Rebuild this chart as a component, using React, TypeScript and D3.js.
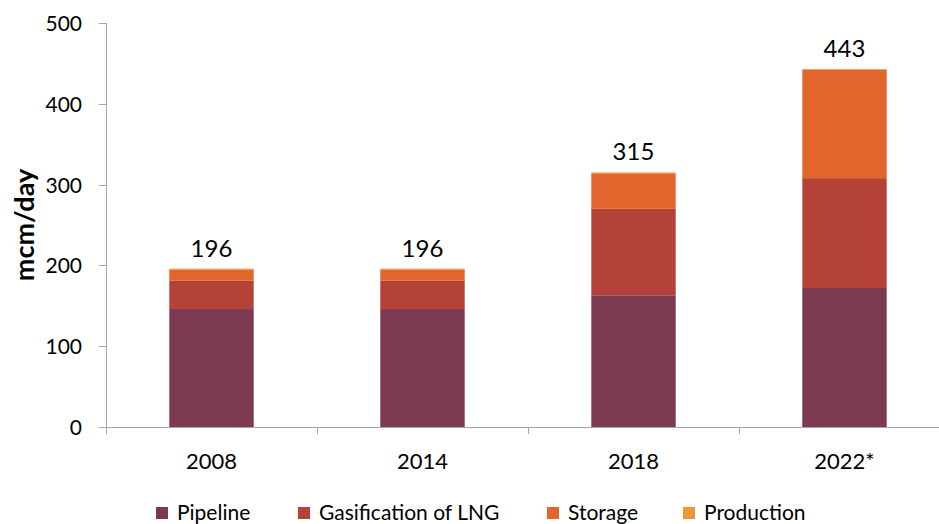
import React from 'react'
import * as d3 from 'd3'

const years = ['2008', '2014', '2018', '2022*']
const pipeline = [146, 146, 163, 172]
const lng = [35, 35, 107, 136]
const storage = [14, 14, 44, 134.5]
const production = [1, 1, 1, 0.5]
const totals = [196, 196, 315, 443]
const seriesNames = ['Pipeline', 'Gasification of LNG', 'Storage', 'Production']
const colors = ['#7B3A52', '#B54238', '#E2652E', '#E8983A']
const yTicks = [0, 100, 200, 300, 400, 500]

const font = 'Lato, "Open Sans", sans-serif'

export default function App() {
  const width = 939, height = 524
  const margin = { top: 23, right: -11, bottom: 97, left: 106 }
  const w = width - margin.left - margin.right
  const h = height - margin.top - margin.bottom

  const rows = years.map((y, i) => ({
    year: y, Pipeline: pipeline[i], 'Gasification of LNG': lng[i],
    Storage: storage[i], Production: production[i],
  }))
  const stacked = d3.stack<any>().keys(seriesNames)(rows)

  const x = d3.scaleBand().domain(years).range([0, w]).paddingInner(0.6).paddingOuter(0.3)
  const y = d3.scaleLinear().domain([0, 500]).range([h, 0])
  const step = x.step()
  const axisColor = '#A6A6A6'

  const legendX = [156, 298, 547, 683]

  return (
    <svg width={width} height={height} style={{ position: 'absolute', left: 0, top: 0 }}>
      <g transform={`translate(${margin.left},${margin.top})`}>
        {stacked.map((s, si) => (
          <g key={si} fill={colors[si]}>
            {s.map((d, i) => (
              <rect key={i} x={x(years[i])} y={y(d[1])} width={x.bandwidth()}
                height={Math.max(0, y(d[0]) - y(d[1]))} />
            ))}
          </g>
        ))}
        {/* y axis */}
        <line x1={0.5} x2={0.5} y1={y(500)} y2={h + 7} stroke={axisColor} />
        {yTicks.map(t => (
          <g key={t} transform={`translate(0,${Math.round(y(t)) + 0.5})`}>
            <line x1={-7} x2={0} stroke={axisColor} />
            <text x={-24} dy="0.35em" textAnchor="end" fontFamily={font} fontSize={21} fill="#000">{t}</text>
          </g>
        ))}
        {/* x axis */}
        <line x1={0} x2={w} y1={h + 0.5} y2={h + 0.5} stroke={axisColor} />
        {years.map((yr, i) => (
          <g key={yr}>
            <line x1={i * step + 0.5} x2={i * step + 0.5} y1={h} y2={h + 7} stroke={axisColor} />
            <text x={(x(yr) as number) + x.bandwidth() / 2} y={h + 42} textAnchor="middle"
              fontFamily={font} fontSize={22} fill="#000">{yr}</text>
            <text x={(x(yr) as number) + x.bandwidth() / 2} y={y(totals[i]) - 12} textAnchor="middle"
              fontFamily={font} fontSize={24} fill="#000">{totals[i]}</text>
          </g>
        ))}
      </g>
      <text transform={`translate(34,${margin.top + y(250)}) rotate(-90)`} textAnchor="middle"
        fontFamily={font} fontSize={27} fontWeight="bold" fill="#000">mcm/day</text>
      {seriesNames.map((n, i) => (
        <g key={n} transform={`translate(${legendX[i]},0)`}>
          <rect x={0} y={507} width={12} height={12} fill={colors[i]} />
          <text x={21} y={520} fontFamily={font} fontSize={21} fill="#000">{n}</text>
        </g>
      ))}
    </svg>
  )
}
